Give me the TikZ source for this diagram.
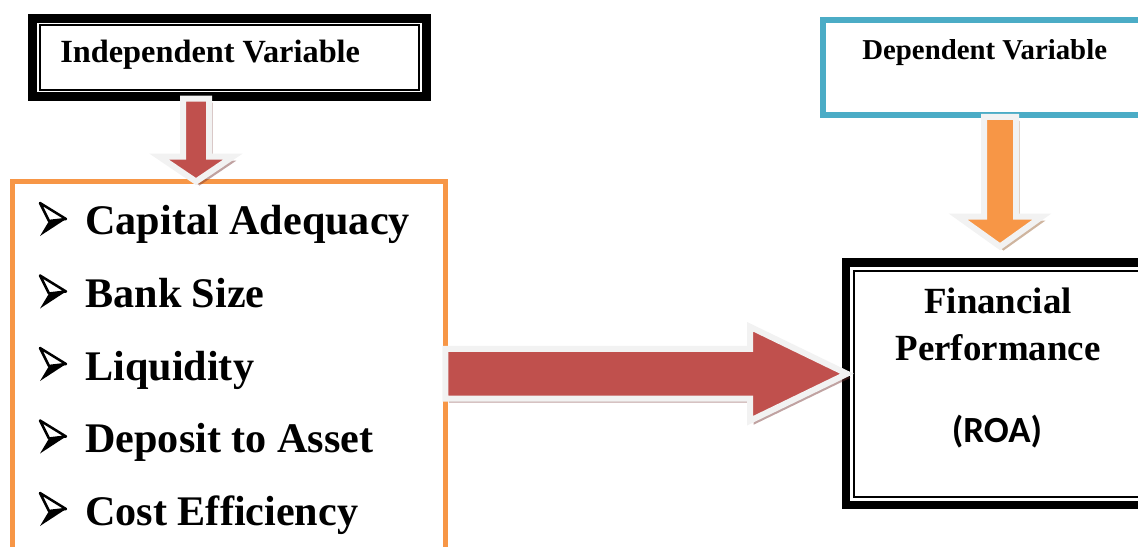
\documentclass[tikz,border=0pt]{standalone}
\usepackage{fontspec}
\setmainfont{Liberation Serif}
\newfontfamily\carlito{Carlito}
\usetikzlibrary{calc}
\definecolor{barred}{HTML}{C0504D}
\definecolor{barorange}{HTML}{F79646}
\definecolor{barcyan}{HTML}{4BACC6}
\definecolor{arrowedge}{HTML}{F2F2F2}
\tikzset{%
	thick frame/.style={
		draw=black,
		line width=0.18cm,
		outer sep=0pt
	},
	thin frame/.style={
		draw=black,
		line width=0.04cm
	},
	list frame/.style={
		draw=barorange,
		line width=0.1cm,
		outer sep=0pt
	},
	dep frame/.style={
		draw=barcyan,
		line width=0.12cm,
		outer sep=0pt
	},
	arrow body/.style={
		draw=arrowedge,
		line width=0.12cm,
		line join=miter
	},
	arrow shadow/.style={
		opacity=0.45,
		transform canvas={xshift=0.07cm, yshift=-0.08cm}
	},
	box title/.style={
		font=\fontsize{18.4}{22}\selectfont\bfseries,
		anchor=base west,
		inner sep=0pt
	},
	list item/.style={
		font=\fontsize{24}{28}\selectfont\bfseries,
		anchor=base west,
		inner sep=0pt
	},
	result text/.style={
		font=\fontsize{21}{25}\selectfont\bfseries,
		anchor=base,
		inner sep=0pt
	},
}
% outline of a block arrow: tail, tip, shaft half width, head half width
\newcommand{\arrowoutline}[4]{($(#1)!#3!90:(#2)$) -- ($(ba-h)!#3!90:(#2)$) -- ($(ba-h)!#4!90:(#2)$) -- (#2) -- ($(ba-h)!#4!-90:(#2)$) -- ($(ba-h)!#3!-90:(#2)$) -- ($(#1)!#3!-90:(#2)$) -- cycle}
% block arrow with shadow: tail, tip, shaft half width, head half width, head length, colour
\newcommand{\blockarrow}[6]{%
	\coordinate (ba-h) at ($(#2)!#5!(#1)$);
	\fill[arrow shadow, fill=#6!60!black] \arrowoutline{#1}{#2}{#3}{#4};
	\filldraw[arrow body, fill=#6] \arrowoutline{#1}{#2}{#3}{#4};
}
% 3d arrowhead bullet, placed at the baseline of its item
\newcommand{\listbullet}[1]{%
	\filldraw[fill=white, draw=black, line width=0.05cm, line join=round] ($(#1)+(2,-32)$) -- ($(#1)+(28,-16)$) -- ($(#1)+(11,-14)$) -- cycle;
	\fill[black] ($(#1)+(11,-14)$) -- ($(#1)+(28,-16)$) -- ($(#1)+(2,1)$) -- cycle;
}

\begin{document}
\begin{tikzpicture}[x=0.02cm, y=-0.02cm]
	\useasboundingbox (0,0) rectangle (1138,547);
	\clip (0,0) rectangle (1138,547);
	
	% Independent variable box
	\node[thick frame, minimum width=7.87cm, minimum height=1.57cm] (indep) at (229.5,57.35) {};
	\draw[thin frame] ($(indep.north west)+(7,7)$) rectangle ($(indep.south east)+(-7,-7)$);
	
	% Dependent variable box
	\node[dep frame, minimum width=6.47cm, minimum height=1.9cm] (dep) at (985,67.5) {};
	
	% List of variables
	\node[list frame, minimum width=8.66cm, minimum height=8.37cm] (list) at (229,390.75) {};
	
	% Financial performance box
	\node[thick frame, line width=0.17cm, minimum width=6.08cm, minimum height=4.85cm] (perf) at (998,383.75) {};
	\draw[thin frame] ($(perf.north west)+(8,8)$) rectangle ($(perf.south east)+(-8,-8)$);
	
	% Arrows
	\coordinate (indepOut) at ($(indep.south)+(-33.5,2)$);
	\coordinate (listIn) at (indepOut |- list.north);
	\blockarrow{indepOut}{listIn}{0.26cm}{0.74cm}{0.5cm}{barred}
	
	\coordinate (depOut) at ($(dep.south)+(15,2)$);
	\coordinate (perfIn) at ($(depOut |- perf.north)+(0,-16)$);
	\blockarrow{depOut}{perfIn}{0.32cm}{0.84cm}{0.6cm}{barorange}
	
	\coordinate (perfLeft) at ($(perf.west)+(1,-10)$);
	\coordinate (listOut) at (list.east |- perfLeft);
	\blockarrow{listOut}{perfLeft}{0.5cm}{0.94cm}{1.94cm}{barred}
	
	% Texts
	\node[box title] (indepText) at (60,63) {Independent Variable};
	\node[box title, font=\fontsize{16.4}{20}\selectfont\bfseries] (depText) at (862,60) {Dependent Variable};
	
	\coordinate (bullet1) at (38,235);
	\listbullet{bullet1}
	\node[list item] (capital) at (85,235) {Capital Adequacy};
	\coordinate (bullet2) at (38,307.5);
	\listbullet{bullet2}
	\node[list item] (size) at (85,307.5) {Bank Size};
	\coordinate (bullet3) at (38,380);
	\listbullet{bullet3}
	\node[list item] (liquidity) at (85,380) {Liquidity};
	\coordinate (bullet4) at (38,452.5);
	\listbullet{bullet4}
	\node[list item] (deposit) at (85,452.5) {Deposit to Asset};
	\coordinate (bullet5) at (38,525);
	\listbullet{bullet5}
	\node[list item] (cost) at (85,525) {Cost Efficiency};
	
	\node[result text] (financial) at (998,313) {Financial};
	\node[result text] (performance) at (998,360) {Performance};
	\node[result text, font=\fontsize{21}{25}\selectfont\carlito\bfseries] (roa) at (997,442) {(ROA)};
\end{tikzpicture}
\end{document}
